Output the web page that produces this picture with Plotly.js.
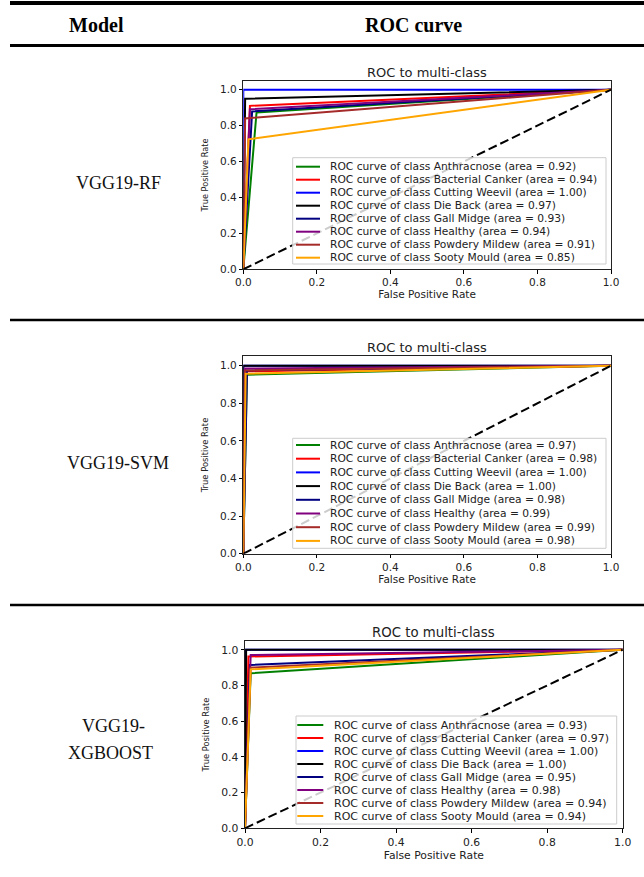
<!DOCTYPE html>
<html>
<head>
<meta charset="utf-8">
<script src="https://cdn.plot.ly/plotly-3.0.1.min.js"></script>
<style>
  html, body { margin: 0; padding: 0; background: #fff; }
  #chart { width: 644px; height: 877px; }
</style>
</head>
<body>
<div id="chart"></div>
<script>
// ---------------- data ----------------
const headerModel = 'Model';
const headerRoc = 'ROC curve';
const modelNames = ['VGG19-RF', 'VGG19-SVM', 'VGG19-XGBOOST'];
const plotTitle = 'ROC to multi-class';
const xLabel = 'False Positive Rate';
const yLabel = 'True Positive Rate';

const classes = ['Anthracnose', 'Bacterial Canker', 'Cutting Weevil', 'Die Back',
                 'Gall Midge', 'Healthy', 'Powdery Mildew', 'Sooty Mould'];

// VGG19-RF
const rfFpr = [0.036, 0.018, 0.0, 0.005, 0.024, 0.018, 0.005, 0.014];
const rfTpr = [0.873, 0.910, 1.0, 0.950, 0.879, 0.891, 0.840, 0.724];
const rfAuc = ['0.92', '0.94', '1.00', '0.97', '0.93', '0.94', '0.91', '0.85'];

// VGG19-SVM
const svmFpr = [0.010, 0.008, 0.0, 0.0, 0.010, 0.005, 0.004, 0.0065];
const svmTpr = [0.952, 0.970, 1.0, 1.0, 0.975, 0.985, 0.975, 0.957];
const svmAuc = ['0.97', '0.98', '1.00', '1.00', '0.98', '0.99', '0.99', '0.98'];

// VGG19-XGBOOST
const xgbFpr = [0.015, 0.009, 0.0, 0.003, 0.013, 0.015, 0.015, 0.015];
const xgbTpr = [0.868, 0.962, 1.0, 1.0, 0.915, 0.970, 0.900, 0.890];
const xgbAuc = ['0.93', '0.97', '1.00', '1.00', '0.95', '0.98', '0.94', '0.94'];

const tickValues = [0, 0.2, 0.4, 0.6, 0.8, 1.0];

// ---------------- styles / layout ----------------
const classColors = ['#008000', '#ff0000', '#0000ff', '#000000',
                     '#000080', '#800080', '#a52a2a', '#ffa500'];
const W = 644, H = 877;
const px = v => v / W;
const py = v => 1 - v / H;

// pixel boxes of the three axes
const panels = [
  { fpr: rfFpr,  tpr: rfTpr,  auc: rfAuc,  box: {l: 243.3, r: 611.0, t: 80.7,  b: 269.3},
    leg: {l: 292.7, r: 606.0, t: 157.7, b: 264.0, row0: 166.7, step: 13.0, hx0: 296.0, hx1: 320.0, tx: 328.3, fs: 10.7},
    tfs: 13, lfs: 10.5, yfs: 8.2 },
  { fpr: svmFpr, tpr: svmTpr, auc: svmAuc, box: {l: 243.3, r: 611.0, t: 356.3, b: 553.7},
    leg: {l: 292.7, r: 606.0, t: 438.3, b: 548.3, row0: 445.0, step: 13.7, hx0: 296.0, hx1: 320.0, tx: 328.3, fs: 10.7},
    tfs: 13, lfs: 10.5, yfs: 8.4 },
  { fpr: xgbFpr, tpr: xgbTpr, auc: xgbAuc, box: {l: 245.0, r: 622.7, t: 640.8, b: 828.3},
    leg: {l: 296.0, r: 616.7, t: 716.0, b: 824.0, row0: 725.0, step: 13.0, hx0: 297.3, hx1: 323.3, tx: 331.7, fs: 11.0},
    tfs: 13.3, lfs: 10.8, yfs: 8.3 }
];

const traces = [];
const layout = {
  width: W, height: H,
  margin: {l: 0, r: 0, t: 0, b: 0},
  paper_bgcolor: '#ffffff',
  plot_bgcolor: '#ffffff',
  showlegend: false,
  font: {family: 'DejaVu Sans', color: '#000'},
  annotations: [],
  shapes: []
};

panels.forEach((p, k) => {
  const sfx = k === 0 ? '' : String(k + 1);
  const xa = 'x' + sfx, ya = 'y' + sfx;
  classes.forEach((c, i) => {
    traces.push({
      type: 'scatter', mode: 'lines',
      x: [0, p.fpr[i], 1], y: [0, p.tpr[i], 1],
      xaxis: xa, yaxis: ya,
      line: {color: classColors[i], width: 2},
      name: 'ROC curve of class ' + c + ' (area = ' + p.auc[i] + ')',
      hoverinfo: 'name'
    });
  });
  traces.push({
    type: 'scatter', mode: 'lines', x: [0, 1], y: [0, 1],
    xaxis: xa, yaxis: ya,
    line: {color: '#000', width: 2, dash: '9px,4px'},
    hoverinfo: 'skip'
  });

  const b = p.box;
  layout['xaxis' + sfx] = {
    domain: [px(b.l), px(b.r)], anchor: ya, range: [0, 1],
    tickvals: tickValues, tickformat: '.1f',
    ticks: 'outside', ticklen: 3.5, tickwidth: 1, tickcolor: '#000',
    showline: true, mirror: true, linecolor: '#222', linewidth: 1,
    showgrid: false, zeroline: false,
    tickfont: {family: 'DejaVu Sans', size: p.lfs, color: '#222'},
    title: {text: xLabel, font: {family: 'DejaVu Sans', size: p.lfs, color: '#222'}, standoff: 0},
    fixedrange: true
  };
  layout['yaxis' + sfx] = {
    domain: [py(b.b), py(b.t)], anchor: xa, range: [0, 1.05],
    tickvals: tickValues, tickformat: '.1f',
    ticks: 'outside', ticklen: 3.5, tickwidth: 1, tickcolor: '#000',
    showline: true, mirror: true, linecolor: '#222', linewidth: 1,
    showgrid: false, zeroline: false,
    tickfont: {family: 'DejaVu Sans', size: p.lfs, color: '#222'},
    title: {text: yLabel, font: {family: 'DejaVu Sans', size: p.yfs, color: '#222'}, standoff: 10},
    fixedrange: true
  };

  // panel title
  layout.annotations.push({
    xref: 'paper', yref: 'paper', x: px((b.l + b.r) / 2), y: py(b.t - 8.5),
    xanchor: 'center', yanchor: 'middle', showarrow: false,
    text: plotTitle, font: {family: 'DejaVu Sans', size: p.tfs, color: '#222'}
  });

  // legend box
  const L = p.leg;
  layout.shapes.push({
    type: 'rect', xref: 'paper', yref: 'paper', layer: 'above',
    x0: px(L.l), x1: px(L.r), y0: py(L.b), y1: py(L.t),
    fillcolor: 'rgba(255,255,255,0.8)', line: {color: '#cccccc', width: 1}
  });
  classes.forEach((c, i) => {
    const yy = L.row0 + i * L.step;
    layout.shapes.push({
      type: 'line', xref: 'paper', yref: 'paper', layer: 'above',
      x0: px(L.hx0), x1: px(L.hx1), y0: py(yy), y1: py(yy),
      line: {color: classColors[i], width: 2}
    });
    layout.annotations.push({
      xref: 'paper', yref: 'paper', x: px(L.tx), y: py(yy),
      xanchor: 'left', yanchor: 'middle', showarrow: false,
      text: 'ROC curve of class ' + c + ' (area = ' + p.auc[i] + ')',
      font: {family: 'DejaVu Sans', size: L.fs, color: '#222'}
    });
  });
});

// ---------------- table frame ----------------
const ruleSpecs = [
  {y: 3, w: 4}, {y: 45.5, w: 3}, {y: 320, w: 2.5}, {y: 605, w: 2.5}
];
ruleSpecs.forEach(r => {
  layout.shapes.push({
    type: 'line', xref: 'paper', yref: 'paper', layer: 'above',
    x0: px(10), x1: 1, y0: py(r.y), y1: py(r.y),
    line: {color: '#000', width: r.w}
  });
});

const serif = 'Liberation Serif, Times New Roman, serif';
layout.annotations.push(
  {xref: 'paper', yref: 'paper', x: px(96), y: py(25), xanchor: 'center', yanchor: 'middle',
   showarrow: false, text: '<b>' + headerModel + '</b>', font: {family: serif, size: 20, color: '#000'}},
  {xref: 'paper', yref: 'paper', x: px(413), y: py(25), xanchor: 'center', yanchor: 'middle',
   showarrow: false, text: '<b>' + headerRoc + '</b>', font: {family: serif, size: 20, color: '#000'}},
  {xref: 'paper', yref: 'paper', x: px(118), y: py(183), xanchor: 'center', yanchor: 'middle',
   showarrow: false, text: modelNames[0], font: {family: serif, size: 18, color: '#111'}},
  {xref: 'paper', yref: 'paper', x: px(118), y: py(463), xanchor: 'center', yanchor: 'middle',
   showarrow: false, text: modelNames[1], font: {family: serif, size: 18, color: '#111'}},
  {xref: 'paper', yref: 'paper', x: px(113), y: py(726), xanchor: 'center', yanchor: 'middle',
   showarrow: false, text: modelNames[2].slice(0, 6), font: {family: serif, size: 18, color: '#111'}},
  {xref: 'paper', yref: 'paper', x: px(110), y: py(753), xanchor: 'center', yanchor: 'middle',
   showarrow: false, text: modelNames[2].slice(6), font: {family: serif, size: 18, color: '#111'}}
);

Plotly.newPlot('chart', traces, layout, {staticPlot: true, displayModeBar: false});
</script>
</body>
</html>
